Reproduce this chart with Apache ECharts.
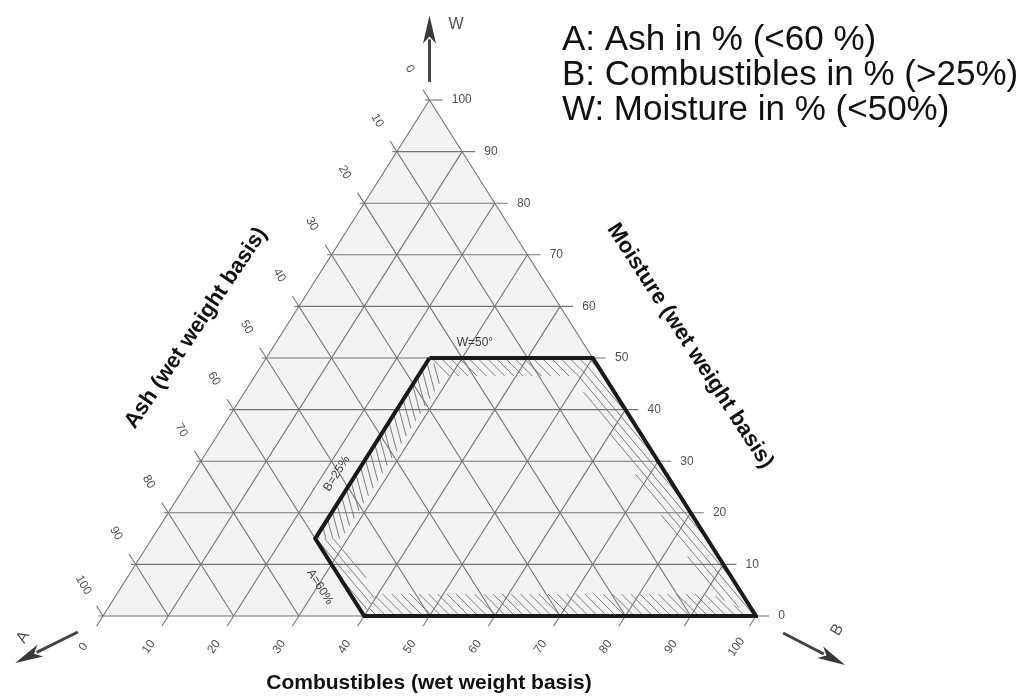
<!DOCTYPE html>
<html><head><meta charset="utf-8">
<script src="https://cdn.jsdelivr.net/npm/echarts@6/dist/echarts.min.js"></script>
<style>html,body{margin:0;padding:0;background:#fff}#c{width:1026px;height:700px}</style>
</head><body><div id="c"></div>
<script>
// ---------- data (ternary: A = ash, B = combustibles, W = moisture, in %) ----------
const gridSteps = [0, 10, 20, 30, 40, 50, 60, 70, 80, 90, 100];
const ashTickLabels = ['0','10','20','30','40','50','60','70','80','90','100'];
const combTickLabels = ['0','10','20','30','40','50','60','70','80','90','100'];
const moistTickLabels = ['0','10','20','30','40','50','60','70','80','90','100'];
const triangleVertices = [[100,0,0],[0,100,0],[0,0,100]];
// self-sustaining combustion zone: W<50, A<60, B>25
const regionVertices = [[25,25,50],[0,50,50],[0,100,0],[60,40,0],[60,25,15]];
const regionNoteTexts = ['W=50°', 'B=25%', 'A=60%'];
const regionNotePos = [[16.6,30.5,52.9],[50.4,22.0,27.6],[64.0,30.4,5.6]];
const legendLines = ['A: Ash in % (<60 %)', 'B: Combustibles in % (>25%)', 'W: Moisture in % (<50%)'];
const axisTitleTexts = ['Ash (wet weight basis)', 'Moisture (wet weight basis)', 'Combustibles (wet weight basis)'];
const arrowNames = ['W', 'A', 'B'];
const arrowFrom = [[-1.75,-1.75,103.5],[105.4,-2.3,-3.1],[-2.5,105.8,-3.3]];
const arrowTo   = [[-8.2,-8.2,116.4],[118,-8.9,-9.1],[-8.9,118.4,-9.5]];
const arrowNamePos = [[-11.4,-3.3,114.7],[114.3,-10.2,-4.1],[-11.1,113.8,-2.7]];

// ---------- styles ----------
const tickExt = 2, labelExtLeft = 6, labelExtBottom = 6, labelExtRight = 3.4, overshoot = 0.7;
const hatchAngles = [45, 50, 45, 50, 75];
const hatchWidths = [18, 26, 22, 22, 22];
const hatchStep = 6.5;

const T = (a, b, w) => [(b + w / 2) / 100, w / 100];

// grid lines (with tick extensions)
const gridLines = [];
gridSteps.forEach(v => {
  gridLines.push([...T(100 - v + overshoot, -overshoot, v), ...T(-tickExt, 100 - v + tickExt, v)]); // W = v
  gridLines.push([...T(v, -tickExt, 100 - v + tickExt), ...T(v, 100 - v, 0)]);                   // A = v
  gridLines.push([...T(100 - v + tickExt, v, -tickExt), ...T(0, v, 100 - v)]);                   // B = v
});
const ashLabelPts = gridSteps.map(v => T(v, -labelExtLeft, 100 - v + labelExtLeft));
const combLabelPts = gridSteps.map(v => T(100 - v + labelExtBottom, v, -labelExtBottom));
const moistLabelPts = gridSteps.map(v => T(-labelExtRight, 100 - v + labelExtRight, v));

function textSeries(points, texts, opt) {
  return {
    type: 'custom', coordinateSystem: 'cartesian2d', silent: true, animation: false, z: 6, clip: false,
    data: points,
    renderItem(params, api) {
      const p = api.coord([api.value(0), api.value(1)]);
      const rot = Array.isArray(opt.rotate) ? opt.rotate[params.dataIndex] : (opt.rotate || 0);
      return {
        type: 'text', x: p[0], y: p[1], rotation: rot * Math.PI / 180,
        style: {
          text: texts[params.dataIndex], fill: opt.color, font: opt.font,
          align: opt.align || 'center', verticalAlign: 'middle',
          textAlign: opt.align || 'center', textVerticalAlign: 'middle'
        }
      };
    }
  };
}

// ---------- geometry helpers for hatching ----------
const cross = (a, b) => a[0] * b[1] - a[1] * b[0];
const sub = (a, b) => [a[0] - b[0], a[1] - b[1]];
function insetPoly(pts, widths) {
  const n = pts.length;
  const c = pts.reduce((s, p) => [s[0] + p[0] / n, s[1] + p[1] / n], [0, 0]);
  const lines = pts.map((p, i) => {
    const q = pts[(i + 1) % n];
    const d = sub(q, p); const L = Math.hypot(d[0], d[1]);
    const u = [d[0] / L, d[1] / L];
    let nn = [-u[1], u[0]];
    if ((c[0] - p[0]) * nn[0] + (c[1] - p[1]) * nn[1] < 0) nn = [-nn[0], -nn[1]];
    return { p: [p[0] + nn[0] * widths[i], p[1] + nn[1] * widths[i]], u };
  });
  return pts.map((_, i) => {
    const l1 = lines[(i - 1 + n) % n], l2 = lines[i];
    const t = cross(sub(l2.p, l1.p), l2.u) / cross(l1.u, l2.u);
    return [l1.p[0] + t * l1.u[0], l1.p[1] + t * l1.u[1]];
  });
}
function hatchPoly(quad, angleDeg, step) {
  const th = angleDeg * Math.PI / 180;
  const u = [Math.cos(th), Math.sin(th)], nv = [-Math.sin(th), Math.cos(th)];
  const proj = quad.map(p => p[0] * nv[0] + p[1] * nv[1]);
  const tmin = Math.min(...proj), tmax = Math.max(...proj);
  const segs = [];
  for (let t = Math.ceil(tmin / step) * step; t <= tmax; t += step) {
    const p0 = [t * nv[0], t * nv[1]];
    const ss = [];
    for (let i = 0; i < quad.length; i++) {
      const a = quad[i], b = quad[(i + 1) % quad.length];
      const e = sub(b, a); const den = cross(u, e);
      if (Math.abs(den) < 1e-9) continue;
      const ap = sub(a, p0);
      const s = cross(ap, e) / den, r = cross(ap, u) / den;
      if (r >= -1e-6 && r <= 1 + 1e-6) ss.push(s);
    }
    if (ss.length >= 2) {
      const s1 = Math.min(...ss), s2 = Math.max(...ss);
      if (s2 - s1 > 1) segs.push([p0[0] + s1 * u[0], p0[1] + s1 * u[1], p0[0] + s2 * u[0], p0[1] + s2 * u[1]]);
    }
  }
  return segs;
}

const chart = echarts.init(document.getElementById('c'), null, { renderer: 'canvas' });
const regionLine = regionVertices.concat([regionVertices[0]]).map(v => T(...v));
const centered = { align: 'center', verticalAlign: 'middle', textAlign: 'center', textVerticalAlign: 'middle' };

const option = {
  animation: false,
  backgroundColor: '#ffffff',
  grid: { left: 103, top: 100, width: 653, height: 516 },
  xAxis: { type: 'value', min: 0, max: 1, show: false },
  yAxis: { type: 'value', min: 0, max: 1, show: false },
  graphic: [
    ...legendLines.map((t, i) => ({
      type: 'text', left: 562, top: 23 + i * 35, silent: true,
      style: { text: t, font: '35px "Liberation Sans", Arial, sans-serif', fill: '#111' }
    })),
    { type: 'text', x: 196, y: 328, rotation: 56 * Math.PI / 180, silent: true,
      style: Object.assign({ text: axisTitleTexts[0], font: 'bold 22px "Liberation Sans", Arial, sans-serif', fill: '#111' }, centered) },
    { type: 'text', x: 690, y: 346, rotation: -57 * Math.PI / 180, silent: true,
      style: Object.assign({ text: axisTitleTexts[1], font: 'bold 22px "Liberation Sans", Arial, sans-serif', fill: '#111' }, centered) },
    { type: 'text', x: 429, y: 683, silent: true,
      style: Object.assign({ text: axisTitleTexts[2], font: 'bold 21px "Liberation Sans", Arial, sans-serif', fill: '#111' }, centered) }
  ],
  series: [
    { // triangle fill
      type: 'custom', coordinateSystem: 'cartesian2d', silent: true, z: 1, data: [[0.5, 0.5]],
      renderItem(params, api) {
        return { type: 'polygon', shape: { points: triangleVertices.map(v => api.coord(T(...v))) }, style: { fill: '#f3f3f3' } };
      }
    },
    { // hatching inside region border
      type: 'custom', coordinateSystem: 'cartesian2d', silent: true, z: 2, data: [[0.5, 0.5]],
      renderItem(params, api) {
        const outer = regionVertices.map(v => api.coord(T(...v)));
        const inner = insetPoly(outer, hatchWidths);
        const n = outer.length; const children = [];
        for (let i = 0; i < n; i++) {
          const j = (i + 1) % n;
          const quad = [outer[i], outer[j], inner[j], inner[i]];
          hatchPoly(quad, hatchAngles[i], hatchStep).forEach(s => children.push({
            type: 'line', shape: { x1: s[0], y1: s[1], x2: s[2], y2: s[3] },
            style: { stroke: '#7e7e7e', lineWidth: 1 }
          }));
        }
        return { type: 'group', children };
      }
    },
    { // grid lines
      type: 'custom', coordinateSystem: 'cartesian2d', silent: true, z: 3, clip: false, data: gridLines,
      encode: { x: [0, 2], y: [1, 3] },
      renderItem(params, api) {
        const p1 = api.coord([api.value(0), api.value(1)]);
        const p2 = api.coord([api.value(2), api.value(3)]);
        return { type: 'line', shape: { x1: p1[0], y1: p1[1], x2: p2[0], y2: p2[1] }, style: { stroke: '#747474', lineWidth: 1.1 } };
      }
    },
    { // region outline
      type: 'line', data: regionLine, symbol: 'none', silent: true, z: 4, clip: false,
      lineStyle: { color: '#1a1a1a', width: 4, join: 'miter' }
    },
    { // axis arrows
      type: 'custom', coordinateSystem: 'cartesian2d', silent: true, z: 4, clip: false,
      data: arrowFrom.map((f, i) => [...T(...f), ...T(...arrowTo[i])]),
      encode: { x: [0, 2], y: [1, 3] },
      renderItem(params, api) {
        const p1 = api.coord([api.value(0), api.value(1)]);
        const p2 = api.coord([api.value(2), api.value(3)]);
        const d = sub(p2, p1); const L = Math.hypot(d[0], d[1]);
        const u = [d[0] / L, d[1] / L], nn = [-u[1], u[0]];
        const hl = 28, hw = 6.5;
        const base = [p2[0] - u[0] * hl, p2[1] - u[1] * hl];
        return { type: 'group', children: [
          { type: 'line', shape: { x1: p1[0], y1: p1[1], x2: base[0] + u[0] * 4, y2: base[1] + u[1] * 4 }, style: { stroke: '#444', lineWidth: 3 } },
          { type: 'polygon', shape: { points: [p2, [base[0] + nn[0] * hw, base[1] + nn[1] * hw], [base[0] + u[0] * 7, base[1] + u[1] * 7], [base[0] - nn[0] * hw, base[1] - nn[1] * hw]] }, style: { fill: '#3a3a3a' } }
        ] };
      }
    },
    textSeries(ashLabelPts, ashTickLabels, { rotate: -60, color: '#505050', font: '12px "Liberation Sans", Arial, sans-serif' }),
    textSeries(combLabelPts, combTickLabels, { rotate: 55, color: '#505050', font: '12px "Liberation Sans", Arial, sans-serif' }),
    textSeries(moistLabelPts, moistTickLabels, { rotate: 0, align: 'left', color: '#505050', font: '12px "Liberation Sans", Arial, sans-serif' }),
    textSeries(regionNotePos.map(v => T(...v)), regionNoteTexts, { rotate: [0, 58, -58], color: '#3a3a3a', font: '12px "Liberation Sans", Arial, sans-serif' }),
    textSeries(arrowNamePos.map(v => T(...v)), arrowNames, { rotate: [0, 60, 60], color: '#505050', font: '16px "Liberation Sans", Arial, sans-serif' })
  ]
};
chart.setOption(option);
</script>
</body></html>
